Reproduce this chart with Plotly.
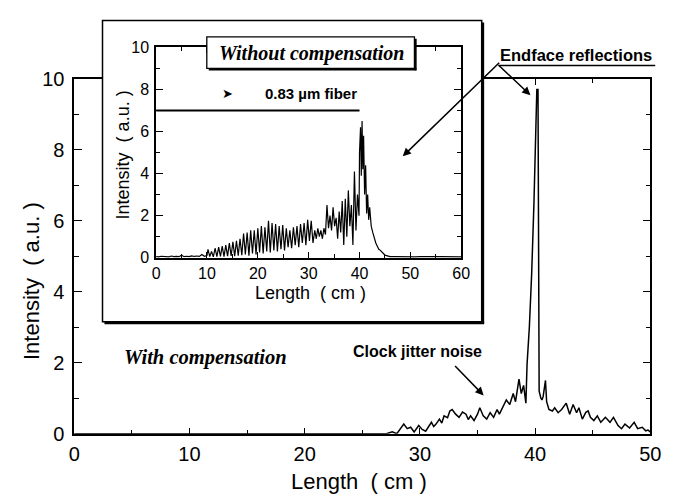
import plotly.graph_objects as go

W, H = 674, 503

# ---- main curve: with compensation ----
main_x = [0, 3, 6, 9, 12, 15, 18, 21, 24, 26, 27.1, 27.6, 28.0, 28.6, 28.9, 29.2, 29.5, 29.9,
          30.2, 30.5, 30.7, 31.0, 31.2, 31.4, 31.7, 31.9, 32.1, 32.4, 32.6, 32.8, 33.1, 33.4,
          33.7, 34.0, 34.2, 34.4, 34.7, 35.0, 35.2, 35.5, 35.8, 36.1, 36.4, 36.7, 36.9, 37.2,
          37.5, 37.8, 38.1, 38.3, 38.6, 38.8, 39.0, 39.2, 39.3, 39.5, 39.7, 39.9, 40.05, 40.15,
          40.25, 40.3, 40.35, 40.5, 40.6, 40.7, 40.9, 41.0, 41.2, 41.5, 41.7, 42.0, 42.3, 42.7,
          43.0, 43.3, 43.6, 43.8, 44.1, 44.4, 44.6, 44.8, 45.1, 45.4, 45.7, 46.1, 46.5, 46.8,
          47.2, 47.5, 47.8, 48.2, 48.6, 48.9, 49.3, 49.6, 49.8, 50.0]
main_y = [0.0, 0.0, 0.02, 0.0, 0.01, 0.0, 0.02, 0.0, 0.02, 0.0, 0.0, 0.05, 0.0, 0.27, 0.14, 0.18, 0.05, 0.23,
          0.12, 0.07, 0.18, 0.32, 0.2, 0.27, 0.41, 0.3, 0.5, 0.45, 0.64, 0.68, 0.55, 0.46,
          0.61, 0.55, 0.4, 0.5, 0.37, 0.55, 0.73, 0.5, 0.41, 0.59, 0.46, 0.68, 0.55, 0.77,
          0.95, 0.82, 1.13, 0.9, 1.54, 1.13, 1.36, 0.86, 1.95, 3.0, 4.5, 6.5, 8.5, 9.7,
          9.7, 5.0, 1.2, 1.0, 0.95, 1.05, 1.5, 0.9, 0.68, 0.64, 0.73, 0.59, 0.68, 0.86,
          0.55, 0.82, 0.59, 0.73, 0.41, 0.6, 0.64, 0.46, 0.37, 0.5, 0.32, 0.46, 0.32, 0.46,
          0.23, 0.14, 0.27, 0.16, 0.32, 0.14, 0.18, 0.08, 0.1, 0.05]

# ---- inset curve: without compensation ----
inset_x = [0, 0.5, 1, 1.5, 2, 2.5, 3, 3.5, 4, 4.5, 5, 5.5, 6, 6.5, 7, 7.5, 8, 8.5, 9, 9.5, 10,
           10.2, 10.55, 10.9, 11.25, 11.6, 11.95, 12.3, 12.65, 13.0, 13.35, 13.7, 14.05, 14.4, 14.75,
           15.1, 15.45, 15.8, 16.15, 16.5, 16.85, 17.2, 17.55, 17.9, 18.25, 18.6, 18.95, 19.3, 19.65,
           20.0, 20.35, 20.7, 21.05, 21.4, 21.75, 22.1, 22.45, 22.8, 23.15, 23.5, 23.85, 24.2, 24.55,
           24.9, 25.25, 25.6, 25.95, 26.3, 26.65, 27.0, 27.35, 27.7, 28.05, 28.4, 28.75, 29.1, 29.45,
           29.8, 30.15, 30.5, 30.85,
           31.2, 31.5, 31.8, 32.1, 32.4, 32.7, 33.0, 33.3,
           33.6, 33.9, 34.2, 34.5, 34.8, 35.1, 35.4, 35.7, 36.0, 36.3, 36.6, 36.9,
           37.2, 37.5, 37.8, 38.1, 38.4, 38.7, 39.0, 39.3, 39.6, 39.9,
           40.0, 40.2, 40.35, 40.5, 40.65, 40.8, 41.0, 41.2, 41.4, 41.6, 41.8, 42.0, 42.3, 42.6,
           42.9, 43.2, 43.5, 43.8, 44.1, 44.4, 44.7, 45.0, 45.5, 46.0,
           47, 48, 49, 50, 51, 52, 53, 54, 55, 56, 57, 58, 59, 60]
inset_y = [0.05, 0.04, 0.07, 0.05, 0.06, 0.04, 0.08, 0.05, 0.06, 0.05, 0.12, 0.05, 0.07, 0.05, 0.09,
           0.06, 0.08, 0.06, 0.15, 0.07, 0.1,
           0.4, 0.05, 0.3, 0.04, 0.45, 0.05, 0.5, 0.06, 0.55, 0.05, 0.6, 0.07, 0.7, 0.08,
           0.75, 0.07, 0.8, 0.1, 0.9, 0.12, 1.15, 0.15, 1.2, 0.1, 1.3, 0.2, 1.3, 0.15,
           1.4, 0.25, 1.5, 0.2, 1.45, 0.3, 1.75, 0.25, 1.65, 0.35, 1.6, 0.3, 1.5, 0.4,
           1.55, 0.35, 1.4, 0.5, 1.3, 0.45, 1.45, 0.6, 1.5, 0.5, 1.6, 0.7, 1.65, 0.6,
           1.8, 0.8, 1.75, 0.7,
           1.3, 0.9, 1.4, 1.0, 1.3, 0.9, 1.4, 1.1,
           2.5, 1.4, 2.0, 1.3, 2.4, 1.5, 1.9, 0.9, 2.2, 1.2, 2.7, 0.6,
           2.8, 1.0, 3.2, 1.5, 2.5, 0.6, 4.1, 1.3, 3.0, 2.0,
           5.0, 6.2, 3.9, 6.5, 4.2, 5.8, 3.0, 4.4, 2.1, 3.0, 1.8, 2.4, 1.5, 1.2,
           0.9, 0.7, 0.55, 0.4, 0.35, 0.25, 0.2, 0.12, 0.08, 0.05,
           0.05, 0.04, 0.06, 0.05, 0.04, 0.05, 0.06, 0.04, 0.05, 0.05, 0.04, 0.06, 0.05, 0.04]

main_xticks = [0, 10, 20, 30, 40, 50]
main_yticks = [0, 2, 4, 6, 8, 10]
inset_xticks = [0, 10, 20, 30, 40, 50, 60]
inset_yticks = [0, 2, 4, 6, 8, 10]


def px(x):
    return x / W


def py(y):
    return 1 - y / H


SANS = "Liberation Sans"
SERIF = "Liberation Serif"

fig = go.Figure()
fig.add_trace(go.Scatter(x=main_x, y=main_y, mode="lines", xaxis="x", yaxis="y",
                         line=dict(color="black", width=1.5), showlegend=False, hoverinfo="skip"))
# empty trace to create the inset box subplot (white background covering main frame)
fig.add_trace(go.Scatter(x=[None], y=[None], mode="lines", xaxis="x2", yaxis="y2",
                         showlegend=False, hoverinfo="skip"))
fig.add_trace(go.Scatter(x=inset_x, y=inset_y, mode="lines", xaxis="x3", yaxis="y3",
                         line=dict(color="black", width=1.2), showlegend=False, hoverinfo="skip"))

axis_common = dict(showgrid=False, zeroline=False, showline=True, linecolor="black",
                   mirror="allticks", ticks="inside", tickcolor="black")

fig.update_layout(
    width=W, height=H,
    margin=dict(l=0, r=0, t=0, b=0),
    paper_bgcolor="white", plot_bgcolor="white",
    xaxis=dict(**axis_common, domain=[px(70), px(661)], range=[0, 50], anchor="y",
               tickvals=main_xticks, ticklen=6, tickwidth=1.3, linewidth=1.5,
               minor=dict(dtick=5, ticklen=4, ticks="inside", tickcolor="black", tickwidth=1.2),
               tickfont=dict(family=SANS, size=20, color="black"), ticklabelstandoff=2),
    yaxis=dict(**axis_common, domain=[py(442), py(71)], range=[0, 10], anchor="x",
               tickvals=main_yticks, ticklen=8, tickwidth=1.3, linewidth=1.5,
               minor=dict(dtick=1, ticklen=5, ticks="inside", tickcolor="black", tickwidth=1.2),
               tickfont=dict(family=SANS, size=20, color="black"), ticklabelstandoff=4),
    xaxis2=dict(domain=[px(99), px(489)], range=[0, 1], anchor="y2", showgrid=False,
                zeroline=False, showline=False, showticklabels=False, ticks=""),
    yaxis2=dict(domain=[py(326), py(10)], range=[0, 1], anchor="x2", showgrid=False,
                zeroline=False, showline=False, showticklabels=False, ticks=""),
    xaxis3=dict(**axis_common, domain=[px(154), px(467)], range=[0, 60], anchor="y3",
                tickvals=inset_xticks, ticklen=6, tickwidth=1.3, linewidth=2,
                minor=dict(dtick=5, ticklen=4, ticks="inside", tickcolor="black", tickwidth=1.2),
                tickfont=dict(family=SANS, size=16, color="black"), ticklabelstandoff=0),
    yaxis3=dict(**axis_common, domain=[py(258), py(38)], range=[0, 10], anchor="x3",
                tickvals=inset_yticks, ticklen=7, tickwidth=1.3, linewidth=1.5,
                minor=dict(dtick=1, ticklen=4, ticks="inside", tickcolor="black", tickwidth=1.2),
                tickfont=dict(family=SANS, size=16, color="black"), ticklabelstandoff=2),
)

shapes = [
    # inset outer box
    dict(type="rect", xref="paper", yref="paper", x0=px(99), x1=px(488), y0=py(325), y1=py(10),
         line=dict(color="black", width=1.5), layer="above"),
    dict(type="line", xref="paper", yref="paper", x0=px(489), x1=px(489), y0=py(327), y1=py(12),
         line=dict(color="black", width=3), layer="above"),
    dict(type="line", xref="paper", yref="paper", x0=px(101), x1=px(490.5), y0=py(326), y1=py(326),
         line=dict(color="black", width=3), layer="above"),
    # "Without compensation" label box
    dict(type="rect", xref="paper", yref="paper", x0=px(206), x1=px(419), y0=py(60), y1=py(27),
         line=dict(color="black", width=1.3), fillcolor="white", layer="above"),
    dict(type="line", xref="paper", yref="paper", x0=px(420), x1=px(420), y0=py(62), y1=py(29),
         line=dict(color="black", width=2.5), layer="above"),
    dict(type="line", xref="paper", yref="paper", x0=px(208), x1=px(421), y0=py(61), y1=py(61),
         line=dict(color="black", width=2.5), layer="above"),
    # fibre length bar in the inset
    dict(type="line", xref="x3", yref="y3", x0=0, x1=40, y0=7, y1=7,
         line=dict(color="black", width=2), layer="above"),
    # underline of "Endface reflections"
    dict(type="line", xref="paper", yref="paper", x0=px(505), x1=px(666), y0=py(57), y1=py(57),
         line=dict(color="black", width=1.5), layer="above"),
]
fig.update_layout(shapes=shapes)

C = dict(xanchor="center", yanchor="middle", showarrow=False)
ann = [
    dict(text="Intensity  ( a.u. )", xref="paper", yref="paper", x=px(26), y=py(282),
         textangle=-90, font=dict(family=SANS, size=22, color="black"), **C),
    dict(text="Length  ( cm )", xref="paper", yref="paper", x=px(362), y=py(492),
         font=dict(family=SANS, size=22, color="black"), **C),
    dict(text="Intensity  ( a.u. )", xref="paper", yref="paper", x=px(120), y=py(150),
         textangle=-90, font=dict(family=SANS, size=18, color="black"), **C),
    dict(text="Length  ( cm )", xref="paper", yref="paper", x=px(312), y=py(295),
         font=dict(family=SANS, size=18, color="black"), **C),
    dict(text="<b><i>Without compensation</i></b>", xref="paper", yref="paper", x=px(313), y=py(44),
         font=dict(family=SERIF, size=20, color="black"), **C),
    dict(text="<b>0.83 µm fiber</b>", xref="x3", yref="y3", x=30.5, y=7.8,
         font=dict(family=SANS, size=15, color="black"), **C),
    dict(text="➤", xref="x3", yref="y3", x=14.0, y=7.8,
         font=dict(family="DejaVu Sans", size=13, color="black"), **C),
    dict(text="<b>Endface reflections</b>", xref="paper", yref="paper", x=px(585), y=py(46),
         font=dict(family=SANS, size=16.5, color="black"), **C),
    dict(text="<b><i>With compensation</i></b>", xref="paper", yref="paper", x=px(205), y=py(362),
         font=dict(family=SERIF, size=20.5, color="black"), **C),
    dict(text="<b>Clock jitter noise</b>", xref="paper", yref="paper", x=px(422), y=py(356),
         font=dict(family=SANS, size=16, color="black"), **C),
    # arrows
    dict(text="", xref="paper", yref="paper", x=px(407), y=py(152), ax=98, ay=-95,
         showarrow=True, arrowhead=2, arrowsize=1.1, arrowwidth=1.5, arrowcolor="black"),
    dict(text="", xref="paper", yref="paper", x=px(538), y=py(88), ax=-33, ay=-31,
         showarrow=True, arrowhead=2, arrowsize=1.1, arrowwidth=1.5, arrowcolor="black"),
    dict(text="", xref="paper", yref="paper", x=px(490), y=py(402), ax=-30, ay=-31,
         showarrow=True, arrowhead=2, arrowsize=1.1, arrowwidth=1.5, arrowcolor="black"),
]
fig.update_layout(annotations=ann)

fig.write_html("out.html")
